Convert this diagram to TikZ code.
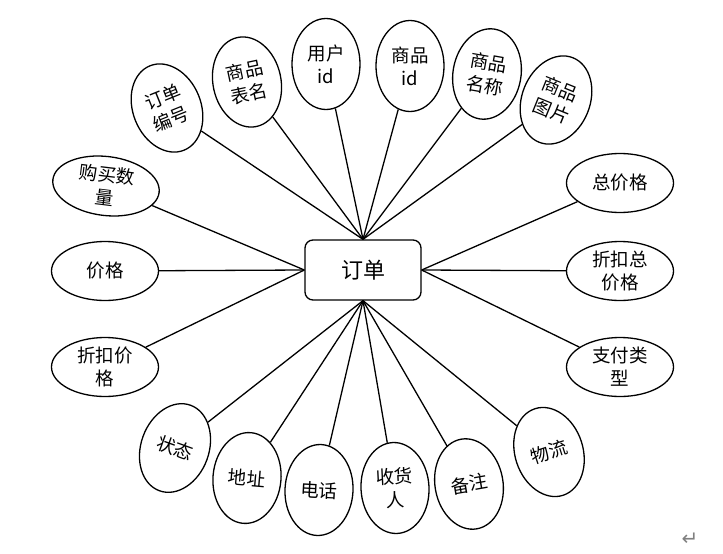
\documentclass[tikz,border=0pt]{standalone}
\usepackage{fontspec}
\setmainfont{Noto Sans CJK SC}
\newfontfamily\djv{DejaVu Sans}
\usetikzlibrary{shapes.geometric}
\begin{document}
\begin{tikzpicture}[x=1pt,y=-1pt,
  attr/.style={draw, ellipse, line width=1.3pt, fill=white, inner sep=0pt,
    align=center, font=\fontsize{18.5}{23}\selectfont},
  vatt/.style={attr, minimum width=68pt, minimum height=91pt},
  hatt/.style={attr, minimum width=107pt, minimum height=59pt},
  ent/.style={draw, rectangle, rounded corners=8pt, line width=1.3pt,
    minimum width=116pt, minimum height=60pt, font=\fontsize{22}{26}\selectfont},
  link/.style={line width=1.3pt}]
\useasboundingbox (0,0) rectangle (723,554);

\node[ent] (o) at (363,270) {订单};

% top
\node[vatt, rotate=22]  (t1) at (167,108) {订单\\编号};
\node[vatt, rotate=12]  (t2) at (247,82)  {商品\\表名};
\node[vatt]             (t3) at (326,64)  {用户\\id};
\node[vatt]             (t4) at (410,66)  {商品\\id};
\node[vatt, rotate=-10] (t5) at (487,74)  {商品\\名称};
\node[vatt, rotate=-22] (t6) at (556,100) {商品\\图片};

% left
\node[hatt, rotate=-7]  (l1) at (106,186) {购买数\\量};
\node[hatt]             (l2) at (105,271) {价格};
\node[hatt]             (l3) at (105,367) {折扣价\\格};

% right
\node[hatt] (r1) at (620,183) {总价格};
\node[hatt] (r2) at (620,271) {折扣总\\价格};
\node[hatt] (r3) at (620,367) {支付类\\型};

% bottom
\node[vatt, rotate=-20] (b1) at (175,448) {状态};
\node[vatt, rotate=-5]  (b2) at (247,478) {地址};
\node[vatt, rotate=-3]  (b3) at (319,490) {电话};
\node[vatt, rotate=3]   (b4) at (395,488) {收货\\人};
\node[vatt, rotate=10]  (b5) at (469,484) {备注};
\node[vatt, rotate=18]  (b6) at (549,452) {物流};

\foreach \n in {t1,t2,t3,t4,t5,t6} \draw[link] (o.north) -- (\n);
\foreach \n in {l1,l2,l3} \draw[link] (o.west) -- (\n);
\foreach \n in {r1,r2,r3} \draw[link] (o.east) -- (\n);
\foreach \n in {b1,b2,b3,b4,b5,b6} \draw[link] (o.south) -- (\n);

\node[text=gray, font=\djv\fontsize{20}{20}\selectfont] (pm) at (690,539) {↵};
\end{tikzpicture}
\end{document}
